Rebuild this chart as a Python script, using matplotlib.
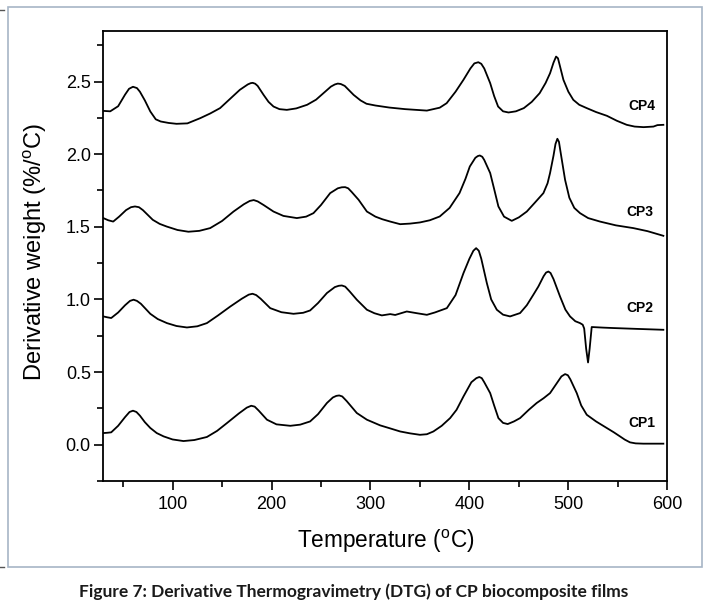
import matplotlib
matplotlib.use("Agg")
import matplotlib.pyplot as plt
from matplotlib.patches import Rectangle
from matplotlib.ticker import MultipleLocator

# ---- data ----
cp4_T = [30, 37, 45, 52, 56, 60, 64, 67, 72, 77.5, 83, 88, 96, 104, 115, 128, 138, 148, 158, 168, 176,
         179, 181, 183.5, 186, 192, 197, 202, 208, 215.5, 225, 236, 245, 252.5, 260, 264, 267, 270,
         274, 283, 290, 296, 305, 319, 335, 357, 370, 377, 386, 394, 401, 405, 409, 412, 415, 421, 425,
         429, 434, 439.5, 447, 455, 463, 471, 477, 481.5, 485, 487.6, 489.5, 491, 495, 500, 505, 511,
         518.6, 528, 539, 549, 559, 567, 576, 586, 590, 596]
cp4_v = [2.298, 2.295, 2.33, 2.41, 2.45, 2.464, 2.455, 2.43, 2.37, 2.294, 2.24, 2.225, 2.215, 2.209,
         2.212, 2.248, 2.28, 2.317, 2.38, 2.443, 2.48, 2.489, 2.491, 2.485, 2.47, 2.408, 2.36, 2.328,
         2.31, 2.305, 2.315, 2.34, 2.375, 2.42, 2.465, 2.48, 2.486, 2.483, 2.47, 2.408, 2.37, 2.347,
         2.335, 2.321, 2.31, 2.300, 2.32, 2.351, 2.43, 2.512, 2.59, 2.625, 2.633, 2.622, 2.59, 2.489,
         2.40, 2.328, 2.295, 2.287, 2.295, 2.317, 2.36, 2.42, 2.49, 2.557, 2.63, 2.672, 2.66, 2.62,
         2.512, 2.43, 2.374, 2.34, 2.317, 2.29, 2.264, 2.23, 2.202, 2.19, 2.186, 2.19, 2.2, 2.202]

cp3_T = [30, 35, 40, 46, 53, 58, 62, 66, 70, 80, 87, 94, 105, 116, 127, 138, 150, 161.6, 172, 178, 182,
         186, 192, 202, 212, 225.6, 235, 242.4, 250, 259.3, 267, 271, 274.4, 277.5, 281, 288, 296.4,
         305, 312, 320, 330, 340, 350, 360, 370, 380, 390, 396, 400.4, 406, 408.5, 410.5, 413, 415,
         421, 425, 429.3, 435, 442.8, 450, 458, 466, 474.8, 479, 481.5, 485, 487, 488.9, 490.5, 492,
         496.7, 501, 506, 511.8, 520, 532, 548, 565.7, 580, 596]
cp3_v = [1.560, 1.545, 1.536, 1.57, 1.615, 1.635, 1.640, 1.635, 1.615, 1.548, 1.52, 1.502, 1.478,
         1.466, 1.472, 1.491, 1.54, 1.605, 1.655, 1.678, 1.684, 1.675, 1.65, 1.605, 1.575, 1.560, 1.57,
         1.594, 1.65, 1.732, 1.765, 1.772, 1.773, 1.765, 1.74, 1.686, 1.605, 1.57, 1.552, 1.536, 1.518,
         1.522, 1.530, 1.545, 1.571, 1.63, 1.732, 1.83, 1.915, 1.975, 1.987, 1.991, 1.982, 1.96,
         1.870, 1.76, 1.640, 1.57, 1.541, 1.565, 1.605, 1.665, 1.732, 1.80, 1.870, 1.99, 2.07, 2.106,
         2.085, 2.02, 1.823, 1.70, 1.63, 1.594, 1.56, 1.536, 1.51, 1.491, 1.47, 1.438]

cp2_T = [30, 34, 38, 45, 52, 57, 60.6, 64, 68, 77.5, 85, 94.3, 104, 114.5, 125, 134.7, 146, 158.3, 170,
         177, 180.8, 184.5, 189, 198.7, 210, 222.2, 232, 239, 247, 256, 264, 268, 271.1, 274.5, 279,
         286.2, 296.4, 304, 311.5, 320, 325, 336.7, 347, 357, 365, 377.2, 386, 394, 400, 404, 406.8,
         409.5, 412, 417.6, 422, 427.7, 434, 441.1, 451.2, 458, 464.6, 469.7, 475, 477.5, 479.8, 482,
         485, 491.6, 497, 501.7, 507, 511.8, 514.5, 516, 518, 519.9, 521.5, 523.6, 535, 545.5, 570, 596]
cp2_v = [0.883, 0.877, 0.872, 0.91, 0.96, 0.99, 0.998, 0.99, 0.97, 0.901, 0.865, 0.837, 0.817, 0.807,
         0.815, 0.837, 0.89, 0.951, 1.005, 1.033, 1.039, 1.03, 1.005, 0.940, 0.912, 0.901, 0.908, 0.924,
         0.975, 1.044, 1.085, 1.094, 1.096, 1.088, 1.055, 0.998, 0.929, 0.905, 0.890, 0.899, 0.893,
         0.917, 0.905, 0.894, 0.91, 0.940, 1.03, 1.181, 1.28, 1.335, 1.353, 1.335, 1.28, 1.113, 1.00,
         0.929, 0.895, 0.883, 0.906, 0.96, 1.032, 1.089, 1.16, 1.185, 1.192, 1.182, 1.14, 1.020, 0.93,
         0.883, 0.85, 0.837, 0.826, 0.80, 0.66, 0.566, 0.66, 0.810, 0.806, 0.803, 0.797, 0.791]

cp1_T = [30, 34, 38, 45, 52, 56.5, 60, 63.5, 67, 72, 77.5, 84, 91, 100, 111, 122, 134.7, 145, 155, 167,
         175, 179.5, 183, 187, 195.4, 205, 219, 229, 239, 247, 256, 262, 265.5, 268.4, 271.5, 276,
         286.2, 296.4, 309.8, 320, 330, 340, 350, 357, 363.6, 372, 380.5, 387, 394, 402, 407, 410,
         412.5, 415, 421, 425, 429.3, 434, 438.7, 445, 451.2, 460, 468, 475, 481.5, 489, 493, 496.7,
         499.5, 502, 508.5, 513, 518.6, 528, 538.8, 546, 552.2, 557, 562.3, 568, 575.8, 596]
cp1_v = [0.080, 0.082, 0.085, 0.13, 0.19, 0.225, 0.234, 0.225, 0.20, 0.155, 0.115, 0.08, 0.057, 0.036,
         0.025, 0.032, 0.053, 0.095, 0.149, 0.215, 0.255, 0.268, 0.262, 0.235, 0.172, 0.14, 0.130,
         0.138, 0.160, 0.21, 0.287, 0.325, 0.336, 0.339, 0.332, 0.30, 0.218, 0.172, 0.133, 0.112, 0.091,
         0.078, 0.068, 0.072, 0.091, 0.13, 0.183, 0.24, 0.332, 0.43, 0.458, 0.466, 0.458, 0.43, 0.355,
         0.27, 0.183, 0.150, 0.142, 0.16, 0.183, 0.24, 0.287, 0.32, 0.355, 0.43, 0.47, 0.486, 0.478,
         0.45, 0.355, 0.27, 0.206, 0.16, 0.115, 0.085, 0.057, 0.035, 0.016, 0.009, 0.007, 0.007]

series_names = ["CP1", "CP2", "CP3", "CP4"]
label_T = [574, 572, 572, 574]
label_v = [0.15, 0.94, 1.60, 2.33]

x_ticks = [100, 200, 300, 400, 500, 600]
y_ticks = [0.0, 0.5, 1.0, 1.5, 2.0, 2.5]

# ---- figure ----
W, H = 710, 613
fig = plt.figure(figsize=(W / 100, H / 100), dpi=100)
fig.patch.set_facecolor("white")

sans = ["Liberation Sans", "DejaVu Sans"]
plt.rcParams["mathtext.fontset"] = "custom"
plt.rcParams["mathtext.rm"] = "Liberation Sans"

# outer frame box
fig.add_artist(Rectangle((8.3 / W, 1 - 566.7 / H), (701.7 - 8.3) / W, (566.7 - 7.3) / H,
                         transform=fig.transFigure, fill=False, edgecolor="#a7b5c6", linewidth=1.2))
# small edge marks
fig.add_artist(plt.Line2D([0, 4 / W], [1 - 567 / H, 1 - 567 / H], transform=fig.transFigure,
                          color="#555555", linewidth=1.0))
fig.add_artist(plt.Line2D([0, 4 / W], [1 - 10 / H, 1 - 10 / H], transform=fig.transFigure,
                          color="#555555", linewidth=1.0))

left, right, top, bottom = 103.3, 667.3, 30.7, 481.0
ax = fig.add_axes([left / W, 1 - bottom / H, (right - left) / W, (bottom - top) / H])

lw = 1.3
ax.plot(cp1_T, cp1_v, color="black", linewidth=lw)
ax.plot(cp2_T, cp2_v, color="black", linewidth=lw)
ax.plot(cp3_T, cp3_v, color="black", linewidth=lw)
ax.plot(cp4_T, cp4_v, color="black", linewidth=lw)

for name, tx, ty in zip(series_names, label_T, label_v):
    ax.text(tx, ty, name, ha="center", va="center", fontsize=10, fontweight="bold", family=sans)

ax.set_xlim(30, 600)
ax.set_ylim(-0.25, 2.85)
ax.set_xticks(x_ticks)
ax.set_yticks(y_ticks)
ax.set_yticklabels([f"{t:.1f}" for t in y_ticks])
ax.xaxis.set_minor_locator(MultipleLocator(50))
ax.yaxis.set_minor_locator(MultipleLocator(0.25))
ax.tick_params(which="both", direction="out", top=False, right=False, width=1.2,
               labelsize=13, labelfontfamily="Liberation Sans")
ax.tick_params(which="major", length=6.5)
ax.tick_params(which="minor", length=4)
ax.tick_params(axis="x", pad=4)
ax.tick_params(axis="y", pad=2.5)
for s in ax.spines.values():
    s.set_linewidth(1.3)

fig.text(386 / W, 1 - 541.7 / H, r"Temperature ($^{\mathrm{o}}$C)", ha="center", va="center",
         fontsize=16.3, family="Liberation Sans")
fig.text(35 / W, 1 - 252 / H, r"Derivative weight (%/$^{\mathrm{o}}$C)", ha="center", va="center",
         rotation=90, fontsize=17, family="Liberation Sans")

fig.text(354 / W, 1 - 591.7 / H,
         "Figure 7: Derivative Thermogravimetry (DTG) of CP biocomposite films",
         ha="center", va="center", fontsize=12.5, fontweight="bold", family=["Lato", "DejaVu Sans"],
         color="#1a1a1a")

fig.savefig("out.png", dpi=100)
